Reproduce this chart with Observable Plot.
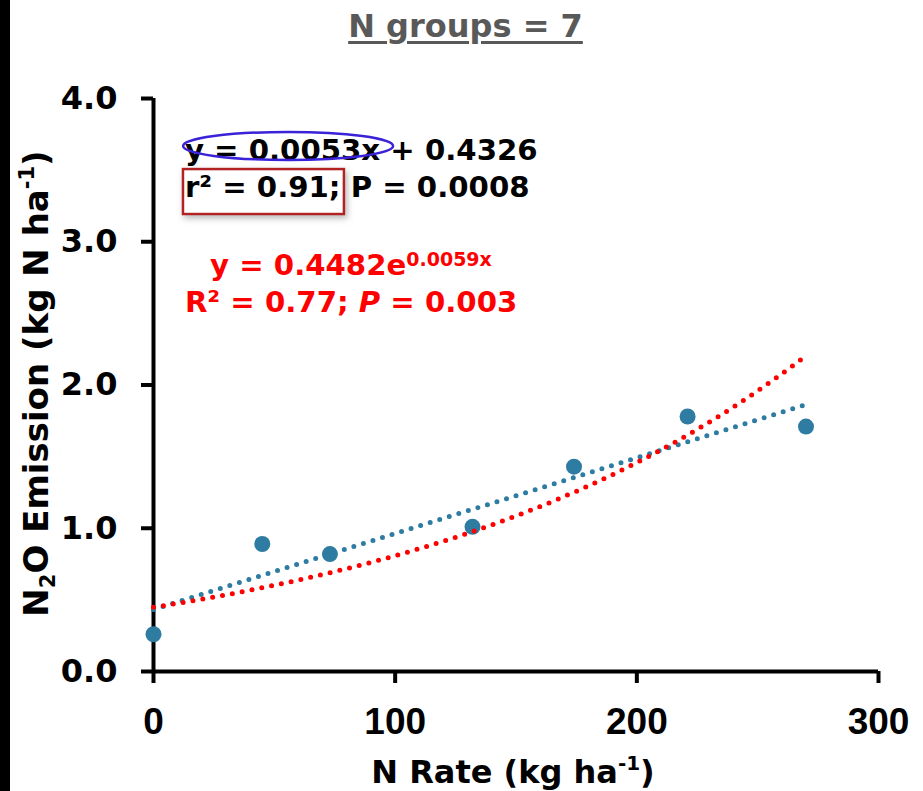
<!DOCTYPE html>
<html><head><meta charset="utf-8">
<script src="https://cdn.jsdelivr.net/npm/d3@7"></script>
<script src="https://cdn.jsdelivr.net/npm/@observablehq/plot@0.6"></script>
<style>
body{margin:0;background:#fff;width:923px;height:791px;overflow:hidden;position:relative;font-family:"DejaVu Sans",sans-serif}
#bar{position:absolute;left:0;top:0;width:10px;height:791px;background:#000}
#title{height:60px;box-sizing:border-box;padding-top:7px;padding-left:8px;text-align:center;font-weight:bold;font-size:32px;color:#595959;line-height:normal}
#title span{text-decoration:underline;text-decoration-thickness:3px;text-underline-offset:4px}
#chart svg{display:block}
</style></head><body>
<div id="bar"></div>
<div id="title"><span>N groups = 7</span></div>
<div id="chart"></div>
<script>
// Data
const nRate = [0, 45, 73, 132, 174, 221, 270];
const n2o   = [0.26, 0.89, 0.82, 1.01, 1.43, 1.78, 1.71];
const xTicks = [0, 100, 200, 300];
const yTicks = [0, 1, 2, 3, 4];
// Trendline equations printed on the chart
const linSlope = 0.0053, linIntercept = 0.4326;
const expA = 0.4482, expB = 0.0059;
const trendX = d3.range(0, 271, 1);

const points = nRate.map((x, i) => ({x, y: n2o[i]}));
const linLine = trendX.map(x => ({x, y: linIntercept + linSlope * x}));
const expLine = trendX.map(x => ({x, y: expA * Math.exp(expB * x)}));

const blue = "#2e7ca1", red = "#ff0000";

const plot = Plot.plot({
  width: 923, height: 731,
  marginLeft: 153, marginRight: 45, marginTop: 38, marginBottom: 120,
  style: {fontFamily: "DejaVu Sans", background: "transparent"},
  x: {domain: [0, 300]},
  y: {domain: [0, 4]},
  marks: [
    Plot.axisY({ticks: yTicks, tickFormat: d => d.toFixed(1), tickSize: 12, tickPadding: 24,
      strokeWidth: 4, fontSize: 32, fontWeight: "bold", fontFamily: "DejaVu Sans", fill: "#000", label: null}),
    Plot.axisX({ticks: xTicks, tickFormat: d => String(d), tickSize: 12, tickPadding: 24,
      strokeWidth: 4, fontSize: 37, fontWeight: "bold", fontFamily: "Liberation Sans", fill: "#000", label: null}),
    Plot.ruleX([0], {y1: 0, y2: 4, stroke: "#000", strokeWidth: 4}),
    Plot.ruleY([0], {x1: 0, x2: 300, stroke: "#000", strokeWidth: 4}),
    Plot.line(linLine, {x: "x", y: "y", stroke: blue, strokeWidth: 5, strokeDasharray: "0 10", strokeLinecap: "round"}),
    Plot.dot(points, {x: "x", y: "y", r: 8, fill: blue, stroke: "none"}),
    Plot.line(expLine, {x: "x", y: "y", stroke: red, strokeWidth: 5, strokeDasharray: "0 10", strokeLinecap: "round"})
  ]
});
document.getElementById("chart").appendChild(plot);

const sx = plot.scale("x").apply, sy = plot.scale("y").apply;
const svg = d3.select(plot);

// defs: shadow
const defs = svg.append("defs");
defs.append("filter").attr("id", "shadow").attr("x", "-20%").attr("y", "-30%").attr("width", "140%").attr("height", "160%")
  .append("feDropShadow").attr("dx", 2).attr("dy", 3).attr("stdDeviation", 3).attr("flood-color", "#888").attr("flood-opacity", 0.6);

// annotation anchors (data coordinates)
const annLin = {x: 13.2, y1: 3.567, y2: 3.309};
const annExp = {x1: 23.6, y1: 2.764, x2: 13.2, y2: 2.506};
const ellipseC = {x: 55.9, y: 3.665};
const boxX = [12.4, 79.0], boxY = [3.504, 3.19];

const fs = 29.2;
const g = svg.append("g").attr("font-family", "DejaVu Sans").attr("font-weight", "bold")
  .attr("font-size", fs).attr("text-anchor", "start");

// red rectangle with shadow
g.append("rect")
  .attr("x", sx(boxX[0])).attr("y", sy(boxY[0]))
  .attr("width", sx(boxX[1]) - sx(boxX[0])).attr("height", sy(boxY[1]) - sy(boxY[0]))
  .attr("fill", "#fff").attr("stroke", "#b22222").attr("stroke-width", 2.5).attr("filter", "url(#shadow)");

g.append("text").attr("x", sx(annLin.x)).attr("y", sy(annLin.y1)).attr("fill", "#000").text("y = 0.0053x + 0.4326");
g.append("text").attr("x", sx(annLin.x)).attr("y", sy(annLin.y2)).attr("fill", "#000").text("r² = 0.91; P = 0.0008");

g.append("ellipse").attr("cx", sx(ellipseC.x)).attr("cy", sy(ellipseC.y)).attr("rx", 105).attr("ry", 14)
  .attr("fill", "none").attr("stroke", "#3a22d8").attr("stroke-width", 2.5);

const t1 = g.append("text").attr("x", sx(annExp.x1)).attr("y", sy(annExp.y1)).attr("fill", red);
t1.append("tspan").text("y = 0.4482e");
t1.append("tspan").attr("font-size", 19).attr("dy", -9).text("0.0059x");

const t2 = g.append("text").attr("x", sx(annExp.x2)).attr("y", sy(annExp.y2)).attr("fill", red);
t2.append("tspan").text("R² = 0.77; ");
t2.append("tspan").attr("font-style", "italic").text("P");
t2.append("tspan").text(" = 0.003");

// axis titles
const yt = svg.append("text").attr("transform", `translate(48,${sy(2) - 1}) rotate(-90)`)
  .attr("text-anchor", "middle").attr("font-family", "DejaVu Sans").attr("font-weight", "bold").attr("font-size", 34).attr("fill", "#000");
yt.append("tspan").text("N");
yt.append("tspan").attr("font-size", 21).attr("dy", 7).text("2");
yt.append("tspan").attr("dy", -7).text("O Emission (kg N ha");
yt.append("tspan").attr("font-size", 21).attr("dy", -14).text("-1");
yt.append("tspan").attr("dy", 14).text(")");

const xt = svg.append("text").attr("x", 513).attr("y", 723)
  .attr("text-anchor", "middle").attr("font-family", "DejaVu Sans").attr("font-weight", "bold").attr("font-size", 32).attr("fill", "#000");
xt.append("tspan").text("N Rate (kg ha");
xt.append("tspan").attr("font-size", 20).attr("dy", -13).text("-1");
xt.append("tspan").attr("dy", 13).text(")");
</script>
</body></html>
